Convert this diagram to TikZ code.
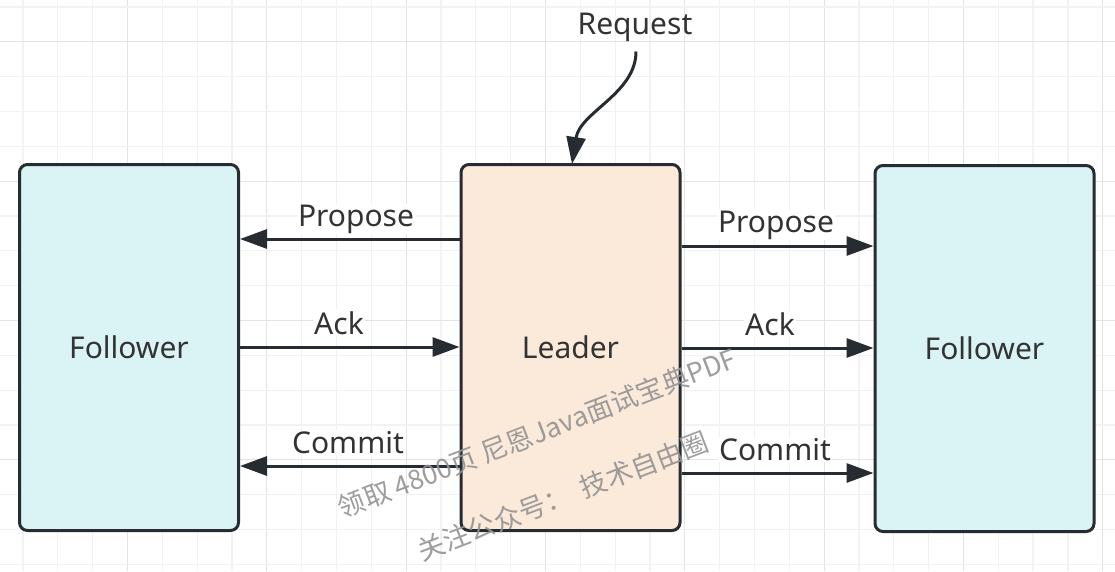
\documentclass[tikz,border=0pt]{standalone}
\usepackage{fontspec}
\setmainfont{Noto Sans}
\newfontfamily\cjk{Noto Sans CJK SC}
\usetikzlibrary{arrows.meta}
\definecolor{ink}{HTML}{262C31}
\definecolor{txt}{HTML}{333333}
\definecolor{fcol}{HTML}{DAF4F5}
\definecolor{lcol}{HTML}{FBE9DA}
\definecolor{gridminor}{HTML}{F2F2F2}
\definecolor{gridmajor}{HTML}{E4E4E4}
\begin{document}
\begin{tikzpicture}[x=1pt,y=-1pt,
 box/.style={draw=ink, line width=3pt, rounded corners=8pt, minimum width=219pt, minimum height=366pt, font=\fontsize{30}{36}\selectfont, text=txt, inner sep=0pt},
 arr/.style={draw=ink, line width=3pt, -{Triangle[length=27pt,width=19pt]}},
 lbl/.style={fill=white, text=txt, font=\fontsize{30}{36}\selectfont, inner sep=1pt},
 wm/.style={text=gray!85, font=\cjk\fontsize{27}{31}\selectfont, rotate=21, opacity=0.9, inner sep=0pt}]
\useasboundingbox (0,0) rectangle (1115,571);
\fill[white] (0,0) rectangle (1115,571);
% grid
\foreach \i in {0,...,31}{
  \pgfmathsetmacro{\gx}{23+34.83*\i}
  \pgfmathtruncatemacro{\m}{mod(\i,4)}
  \ifnum\m=3 \draw[gridmajor,line width=1.2pt] (\gx,0) -- (\gx,571);
  \else \draw[gridminor,line width=1.2pt] (\gx,0) -- (\gx,571); \fi
}
\foreach \j in {0,...,16}{
  \pgfmathsetmacro{\gy}{7+34.83*\j}
  \pgfmathtruncatemacro{\m}{mod(\j,4)}
  \ifnum\m=1 \draw[gridmajor,line width=1.2pt] (0,\gy) -- (1115,\gy);
  \else \draw[gridminor,line width=1.2pt] (0,\gy) -- (1115,\gy); \fi
}
% boxes
\node[box, fill=fcol] (fl) at (129,347.5) {Follower};
\node[box, fill=lcol] (ld) at (570.5,347.5) {Leader};
\node[box, fill=fcol] (fr) at (984.5,348.5) {Follower};
% request
\node[text=txt, font=\fontsize{30}{36}\selectfont, inner sep=0pt] (req) at (635,27) {Request};
\draw[arr] ([xshift=1pt,yshift=-10pt]req.south) .. controls +(0,42) and +(8,-52) .. ([xshift=1.5pt,yshift=-1pt]ld.north);
% left arrows
\draw[arr] ([yshift=108.5pt]ld.west) -- ([yshift=108.5pt]fl.east);
\draw[arr] ([yshift=0.5pt]fl.east) -- ([yshift=0.5pt]ld.west);
\draw[arr] ([yshift=-118.5pt]ld.west) -- ([yshift=-118.5pt]fl.east);
% right arrows
\draw[arr] ([yshift=101.5pt]ld.east) -- ([yshift=102.5pt]fr.west);
\draw[arr] ([yshift=-0.5pt]ld.east) -- ([yshift=0.5pt]fr.west);
\draw[arr] ([yshift=-125.5pt]ld.east) -- ([yshift=-124.5pt]fr.west);
% labels
\node[lbl] (l1) at (356,219) {Propose};
\node[lbl] (l2) at (339,323) {Ack};
\node[lbl] (l3) at (348,443) {Commit};
\node[lbl] (r1) at (776,225) {Propose};
\node[lbl] (r2) at (770,324) {Ack};
\node[lbl] (r3) at (775,450) {Commit};
% watermark
\node[wm] (w1) at (537,433) {领取 4800页 尼恩Java面试宝典PDF};
\node[wm] (w2) at (563,496) {关注公众号：\ \ 技术自由圈};
\end{tikzpicture}
\end{document}
